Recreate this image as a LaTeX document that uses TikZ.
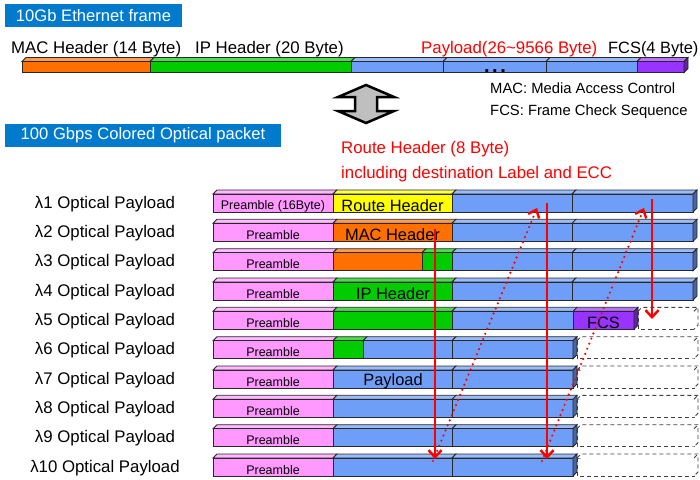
\documentclass[tikz,border=0pt]{standalone}
\usepackage{fontspec}
\setmainfont{Liberation Sans}
\usetikzlibrary{arrows.meta}
\definecolor{titleblue}{RGB}{0,122,204}
\definecolor{segblue}{RGB}{110,158,248}
\definecolor{segorange}{RGB}{255,112,0}
\definecolor{seggreen}{RGB}{0,204,0}
\definecolor{segpurple}{RGB}{153,51,255}
\definecolor{segyellow}{RGB}{255,255,0}
\definecolor{segpink}{RGB}{255,153,255}
\definecolor{edgecol}{RGB}{40,40,40}
\newcommand\pseg[5]{%
  \filldraw[fill=#5!70!white,draw=edgecol,line width=0.8pt] (#1,#3) -- (#1+4,#3-4) -- (#2+4,#3-4) -- (#2,#3) -- cycle;
  \filldraw[fill=#5,draw=edgecol,line width=0.8pt] (#1,#3) rectangle (#2,#3+#4);
}
\newcommand\pside[4]{%
  \filldraw[fill=#4!65!black,draw=edgecol,line width=0.8pt] (#1,#2) -- (#1+4,#2-4) -- (#1+4,#2+#3-4) -- (#1,#2+#3) -- cycle;
}
\newcommand\dbox[2]{%
  \filldraw[dashbox] (#1,#2) rectangle (694,#2+18);
  \draw[dashbox] (#1,#2) -- (#1+4,#2-4) -- (698,#2-4) -- (698,#2+14) -- (694,#2+18);
  \draw[dashbox] (694,#2) -- (698,#2-4);
}
\tikzset{
  titlebox/.style={fill=titleblue,text=white,inner sep=0pt,font=\fontsize{16.6}{19}\selectfont},
  lab/.style={inner sep=0pt,anchor=base west,font=\fontsize{16.8}{20}\selectfont},
  leg/.style={inner sep=0pt,anchor=base west,font=\fontsize{14.8}{18}\selectfont},
  rowlab/.style={inner sep=0pt,anchor=base,font=\fontsize{16.8}{20}\selectfont},
  pretext/.style={inner sep=0pt,anchor=base,font=\fontsize{12.5}{15}\selectfont},
  segtext/.style={inner sep=0pt,anchor=base,font=\fontsize{16.4}{19}\selectfont},
  dashbox/.style={draw=black!75,dash pattern=on 4pt off 3pt,line width=0.9pt,fill=white},
  redsolid/.style={draw=red,line width=2.5pt,-{Straight Barb[length=7pt,width=13pt]}},
  reddot/.style={draw=red,line width=2.4pt,line cap=round,dash pattern=on 0pt off 5.5pt,-{Straight Barb[length=7pt,width=12pt]}},
}
\begin{document}
\begin{tikzpicture}[x=1pt,y=-1pt]
\useasboundingbox (0,0) rectangle (700,479);
% titles
\node[titlebox,minimum width=177pt,minimum height=23pt] (t1) at (93.5,15.5) {10Gb Ethernet frame};
\node[titlebox,minimum width=276pt,minimum height=23pt] (t2) at (143,135.5) {100 Gbps Colored Optical packet};
% frame labels
\node[lab] (macl) at (11,53) {MAC Header (14 Byte)};
\node[lab] (ipl) at (195,53) {IP Header (20 Byte)};
\node[lab,text=red] (payl) at (421,53) {Payload(26\textasciitilde 9566 Byte)};
\node[lab,font=\fontsize{16.4}{20}\selectfont] (fcsl) at (608,53) {FCS(4 Byte)};
% frame bar
\pseg{22}{150}{61.5}{11}{segorange}
\pseg{150}{351}{61.5}{11}{seggreen}
\pseg{351}{443}{61.5}{11}{segblue}
\pseg{443}{546}{61.5}{11}{segblue}
\pseg{546}{637}{61.5}{11}{segblue}
\pseg{637}{684}{61.5}{11}{segpurple}
\pside{684}{61.5}{11}{segpurple}
\node[inner sep=0pt,anchor=base,font=\fontsize{20}{22}\selectfont\bfseries] (dots) at (495,72) {.\hspace{2.5pt}.\hspace{2.5pt}.};
% legend
\node[leg] (leg1) at (490,93) {MAC: Media Access Control};
\node[leg] (leg2) at (490,115) {FCS: Frame Check Sequence};
% double arrow
\filldraw[fill=black!25,draw=black,line width=2.5pt,line join=miter]
  (366,85) -- (394,97) -- (377,97) -- (377,111) -- (394,111) -- (366,123)
  -- (338,111) -- (355,111) -- (355,97) -- (338,97) -- cycle;
% route header note
\node[lab,text=red] (rh1) at (341,153) {Route Header (8 Byte)};
\node[lab,text=red] (rh2) at (341,178) {including destination Label and ECC};
% row labels
\node[rowlab] (l1) at (105,208) {λ1 Optical Payload};
\node[rowlab] (l2) at (105,237.3) {λ2 Optical Payload};
\node[rowlab] (l3) at (105,266.7) {λ3 Optical Payload};
\node[rowlab] (l4) at (105,296) {λ4 Optical Payload};
\node[rowlab] (l5) at (105,325.3) {λ5 Optical Payload};
\node[rowlab] (l6) at (105,354.7) {λ6 Optical Payload};
\node[rowlab] (l7) at (105,384) {λ7 Optical Payload};
\node[rowlab] (l8) at (105,413.3) {λ8 Optical Payload};
\node[rowlab] (l9) at (105,442.7) {λ9 Optical Payload};
\node[rowlab] (l10) at (105,472) {λ10 Optical Payload};
% dashed empty slots
\dbox{638}{311.3}
\dbox{577}{340.7}
\dbox{577}{370}
\dbox{577}{399.3}
\dbox{577}{428.7}
\dbox{577}{458}
% row 1
\pseg{213}{333}{194}{18}{segpink}
\pseg{333}{452}{194}{18}{segyellow}
\pseg{452}{572}{194}{18}{segblue}
\pseg{572}{693}{194}{18}{segblue}
\pside{693}{194}{18}{segblue}
\node[pretext] (p1) at (273,209) {Preamble (16Byte)};
\node[segtext] (rht) at (392.5,211) {Route Header};
% row 2
\pseg{213}{333}{223.3}{18}{segpink}
\pseg{333}{452}{223.3}{18}{segorange}
\pseg{452}{572}{223.3}{18}{segblue}
\pseg{572}{693}{223.3}{18}{segblue}
\pside{693}{223.3}{18}{segblue}
\node[pretext] (p2) at (273,239.3) {Preamble};
\node[segtext] (mact) at (392.5,240.5) {MAC Header};
% row 3
\pseg{213}{333}{252.7}{18}{segpink}
\pseg{333}{422}{252.7}{18}{segorange}
\pseg{422}{452}{252.7}{18}{seggreen}
\pseg{452}{572}{252.7}{18}{segblue}
\pseg{572}{693}{252.7}{18}{segblue}
\pside{693}{252.7}{18}{segblue}
\node[pretext] (p3) at (273,268.7) {Preamble};
% row 4
\pseg{213}{333}{282}{18}{segpink}
\pseg{333}{452}{282}{18}{seggreen}
\pseg{452}{572}{282}{18}{segblue}
\pseg{572}{693}{282}{18}{segblue}
\pside{693}{282}{18}{segblue}
\node[pretext] (p4) at (273,298) {Preamble};
\node[segtext] (ipt) at (393,299) {IP Header};
% row 5
\pseg{213}{333}{311.3}{18}{segpink}
\pseg{333}{452}{311.3}{18}{seggreen}
\pseg{452}{573}{311.3}{18}{segblue}
\pseg{573}{634}{311.3}{18}{segpurple}
\pside{634}{311.3}{18}{segpurple}
\node[pretext] (p5) at (273,327.3) {Preamble};
\node[segtext] (fcst) at (603.5,328) {FCS};
% row 6
\pseg{213}{333}{340.7}{18}{segpink}
\pseg{333}{363}{340.7}{18}{seggreen}
\pseg{363}{452}{340.7}{18}{segblue}
\pseg{452}{573}{340.7}{18}{segblue}
\pside{573}{340.7}{18}{segblue}
\node[pretext] (p6) at (273,356.7) {Preamble};
% row 7
\pseg{213}{333}{370}{18}{segpink}
\pseg{333}{452}{370}{18}{segblue}
\pseg{452}{573}{370}{18}{segblue}
\pside{573}{370}{18}{segblue}
\node[pretext] (p7) at (273,386) {Preamble};
\node[segtext] (payt) at (393,385) {Payload};
% rows 8-10
\pseg{213}{333}{399.3}{18}{segpink}
\pseg{333}{452}{399.3}{18}{segblue}
\pseg{452}{573}{399.3}{18}{segblue}
\pside{573}{399.3}{18}{segblue}
\node[pretext] (p8) at (273,415.3) {Preamble};
\pseg{213}{333}{428.7}{18}{segpink}
\pseg{333}{452}{428.7}{18}{segblue}
\pseg{452}{573}{428.7}{18}{segblue}
\pside{573}{428.7}{18}{segblue}
\node[pretext] (p9) at (273,444.7) {Preamble};
\pseg{213}{333}{458}{18}{segpink}
\pseg{333}{452}{458}{18}{segblue}
\pseg{452}{573}{458}{18}{segblue}
\pside{573}{458}{18}{segblue}
\node[pretext] (p10) at (273,474) {Preamble};
% red arrows
\coordinate (as) at (652,199);
\coordinate (ae) at (652,319);
\coordinate (bs) at (547,203);
\coordinate (be) at (547,459);
\coordinate (cs) at (435,229);
\coordinate (ce) at (435,459);
\coordinate (ds) at (433,461);
\coordinate (de) at (537,208);
\coordinate (es) at (542,461);
\coordinate (ee) at (644,208);
\draw[redsolid] (as) -- (ae);
\draw[redsolid] (bs) -- (be);
\draw[redsolid] (cs) -- (ce);
\draw[reddot] (ds) -- (de);
\draw[reddot] (es) -- (ee);
\end{tikzpicture}
\end{document}
